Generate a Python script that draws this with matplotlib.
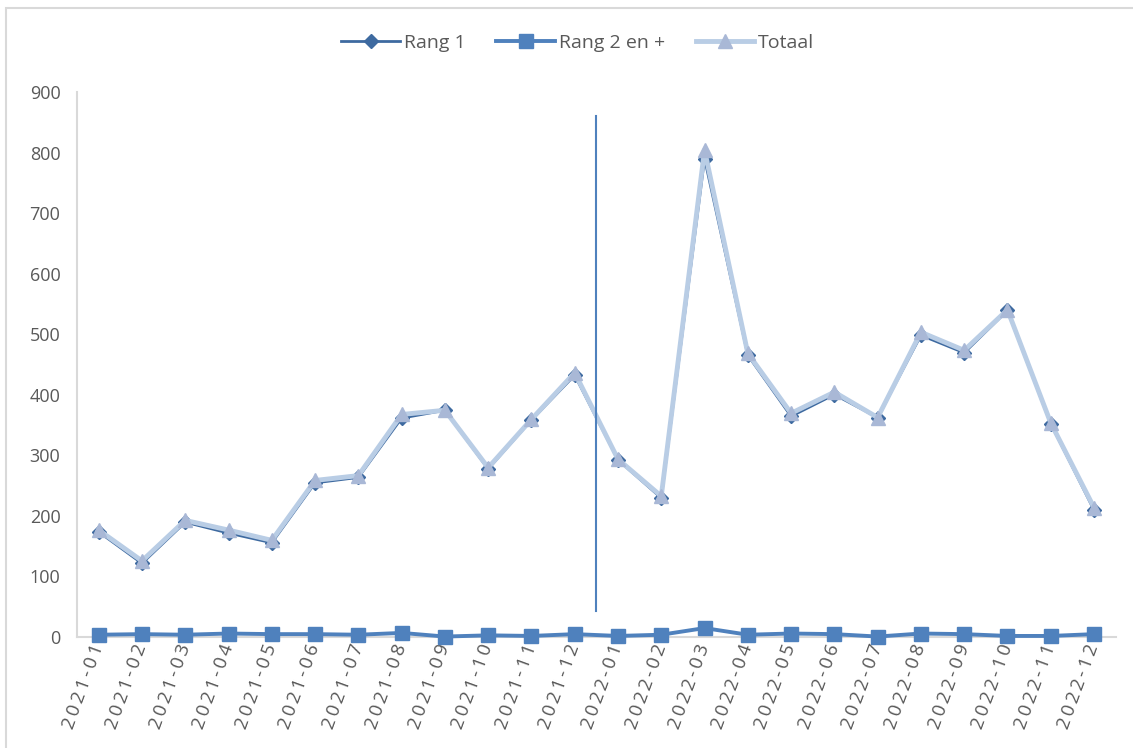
import numpy as np
import matplotlib
matplotlib.use("Agg")
import matplotlib.pyplot as plt
from matplotlib.patches import Rectangle

plt.rcParams['font.family'] = ['Open Sans', 'DejaVu Sans']

# maanden
months = ['2021-01', '2021-02', '2021-03', '2021-04', '2021-05', '2021-06',
          '2021-07', '2021-08', '2021-09', '2021-10', '2021-11', '2021-12',
          '2022-01', '2022-02', '2022-03', '2022-04', '2022-05', '2022-06',
          '2022-07', '2022-08', '2022-09', '2022-10', '2022-11', '2022-12']

rang1 = [173, 121, 189, 171, 155, 254, 263, 361, 374, 277, 358, 432,
         292, 229, 790, 465, 364, 400, 362, 498, 469, 539, 352, 209]
rang2 = [3, 4, 3, 5, 4, 4, 3, 6, 0, 2, 1, 4,
         1, 3, 14, 3, 5, 4, 0, 5, 4, 1, 1, 4]
totaal = [176, 125, 192, 176, 159, 258, 266, 367, 374, 279, 359, 436,
          293, 232, 804, 468, 369, 404, 362, 503, 473, 540, 353, 213]

# scheidingslijn tussen 2021 en 2022
split_pos = 11.5
split_low, split_high = 43, 860

grey = '#595959'
c_rang1 = '#3E6AA0'
c_rang2 = '#4F81BD'
c_tot_line = '#B9CDE5'
c_tot_marker = '#A9B8D6'

fig = plt.figure(figsize=(11.33, 7.48), dpi=100)
ax = fig.add_axes([0.068, 0.149, 0.9167, 0.728])

x = np.arange(len(months))

ax.plot(x, rang2, color=c_rang2, lw=2.8, marker='s', markersize=10,
        label='Rang 2 en +', clip_on=False, zorder=3)
ax.plot(x, rang1, color=c_rang1, lw=2.0, marker='D', markersize=7,
        label='Rang 1', zorder=4)
ax.plot(x, totaal, color=c_tot_line, lw=3.5, marker='^', markersize=10,
        markerfacecolor=c_tot_marker, markeredgecolor=c_tot_marker,
        label='Totaal', zorder=5)

ax.plot([split_pos, split_pos], [split_low, split_high], color=c_rang2,
        lw=1.5, zorder=6)

# excel zet wat extra ruimte tussen de tekens
spaced = ['\u2009'.join(m) for m in months]

ax.set_xlim(-0.5, len(months) - 0.5)
ax.set_ylim(0, 900)
ax.set_yticks(range(0, 901, 100))
ax.set_xticks(x)
ax.set_xticklabels(spaced, rotation=70, ha='right', va='center',
                   rotation_mode='anchor', fontsize=13.5, color=grey)
ax.tick_params(axis='both', length=0)
ax.tick_params(axis='y', labelsize=13, labelcolor=grey, pad=12)
ax.tick_params(axis='x', pad=6)

for s in ['top', 'right']:
    ax.spines[s].set_visible(False)
ax.spines['left'].set_color('#D9D9D9')
ax.spines['bottom'].set_color('#D9D9D9')
ax.spines['left'].set_linewidth(1.5)
ax.spines['bottom'].set_linewidth(1.5)

handles, labels = ax.get_legend_handles_labels()
order = [1, 0, 2]
fig.legend([handles[i] for i in order], [labels[i] for i in order],
           loc='center', bbox_to_anchor=(0.51, 0.943), ncol=3, frameon=False,
           fontsize=14, labelcolor=grey, handlelength=3.0,
           handletextpad=0.2, columnspacing=1.6)

# rand van het grafiekgebied
fig.patches.append(Rectangle((6 / 1133, -0.1), 1.2, (748 - 8) / 748 + 0.1,
                             transform=fig.transFigure, fill=False,
                             edgecolor='#D9D9D9', lw=1.5))

fig.savefig('out.png', dpi=100, facecolor='white')
